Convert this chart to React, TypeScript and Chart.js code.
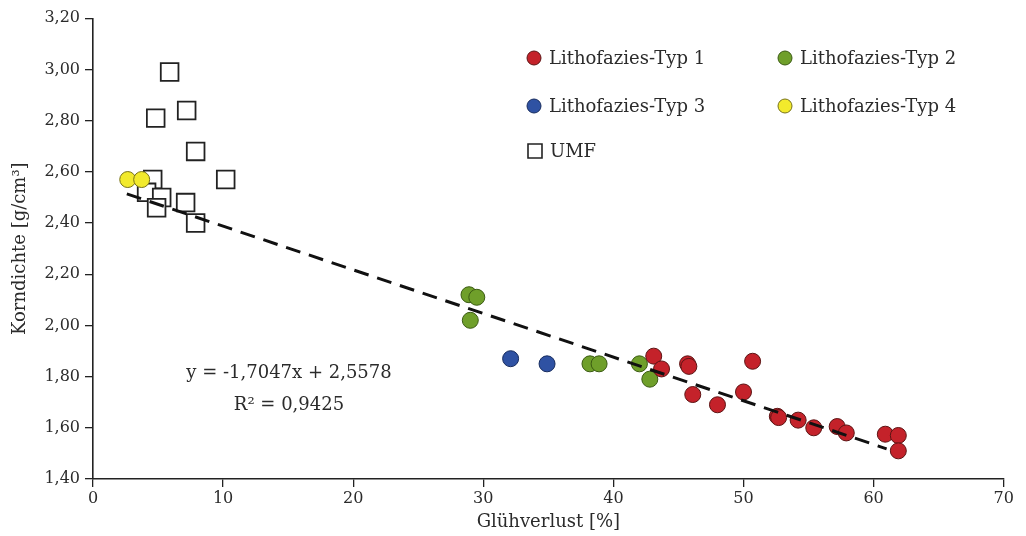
import React, { useEffect, useRef } from "react";
import { Chart, registerables } from "chart.js";

Chart.register(...registerables);

// ---- Data ----
const typ1X = [43.1, 43.7, 45.7, 45.8, 50.7, 46.1, 48.0, 50.0, 52.6, 52.7, 54.2, 55.4, 57.2, 57.9, 60.9, 61.9, 61.9];
const typ1Y = [1.88, 1.83, 1.85, 1.84, 1.86, 1.73, 1.69, 1.74, 1.645, 1.64, 1.63, 1.60, 1.605, 1.58, 1.575, 1.57, 1.51];

const typ2X = [28.9, 29.5, 29.0, 38.2, 38.9, 42.0, 42.8];
const typ2Y = [2.12, 2.11, 2.02, 1.85, 1.85, 1.85, 1.79];

const typ3X = [32.1, 34.9];
const typ3Y = [1.87, 1.85];

const typ4X = [2.67, 3.74];
const typ4Y = [2.57, 2.57];

const umfX = [5.89, 4.82, 7.2, 7.89, 10.2, 4.59, 4.12, 5.28, 4.89, 7.12, 7.89];
const umfY = [2.99, 2.81, 2.84, 2.68, 2.57, 2.57, 2.52, 2.5, 2.46, 2.48, 2.4];

const trendX = [2.6, 61.0];
const trendY = [2.514, 1.518];

const xTicks = [0, 10, 20, 30, 40, 50, 60, 70];
const yTicks = [1.4, 1.6, 1.8, 2.0, 2.2, 2.4, 2.6, 2.8, 3.0, 3.2];

const seriesNames = ["Lithofazies-Typ 1", "Lithofazies-Typ 2", "Lithofazies-Typ 3", "Lithofazies-Typ 4", "UMF"];
const equationText = "y = -1,7047x + 2,5578";
const r2Text = "R\u00B2 = 0,9425";
const xTitle = "Glühverlust [%]";
const yTitle = "Korndichte [g/cm\u00B3]";

const FONT = "'DejaVu Serif', 'Liberation Serif', serif";
const TEXT = "#2b2b2b";

const zip = (xs: number[], ys: number[]) => xs.map((x, i) => ({ x, y: ys[i] }));

const colors = {
  red: { fill: "#c4222a", border: "#5c1414" },
  green: { fill: "#6f9f2a", border: "#3a5a12" },
  blue: { fill: "#2f52a3", border: "#172c5e" },
  yellow: { fill: "#f2ea2c", border: "#77721a" },
};

const overlayPlugin = {
  id: "overlay",
  afterDraw(chart: any) {
    const ctx = chart.ctx as CanvasRenderingContext2D;
    ctx.save();
    const items = [
      { label: seriesNames[0], c: colors.red, x: 526, y: 54, sq: false },
      { label: seriesNames[1], c: colors.green, x: 777, y: 54, sq: false },
      { label: seriesNames[2], c: colors.blue, x: 526, y: 102, sq: false },
      { label: seriesNames[3], c: colors.yellow, x: 777, y: 102, sq: false },
      { label: seriesNames[4], c: { fill: "#ffffff", border: "#222" }, x: 527, y: 147, sq: true },
    ];
    ctx.font = `18px ${FONT}`;
    ctx.textBaseline = "middle";
    ctx.textAlign = "left";
    for (const it of items) {
      ctx.beginPath();
      if (it.sq) {
        ctx.rect(it.x - 7, it.y - 7, 14, 14);
        ctx.fillStyle = it.c.fill;
        ctx.fill();
        ctx.lineWidth = 1.6;
        ctx.strokeStyle = it.c.border;
        ctx.stroke();
      } else {
        ctx.arc(it.x, it.y, 7, 0, Math.PI * 2);
        ctx.fillStyle = it.c.fill;
        ctx.fill();
        ctx.lineWidth = 1;
        ctx.strokeStyle = it.c.border;
        ctx.stroke();
      }
      ctx.fillStyle = TEXT;
      ctx.fillText(it.label, it.x + 15, it.y + 1);
    }
    ctx.textAlign = "center";
    ctx.font = `18px ${FONT}`;
    ctx.fillText(equationText, 281, 369);
    ctx.fillText(r2Text, 281, 401);
    ctx.restore();
  },
};

export default function App() {
  const ref = useRef<HTMLCanvasElement | null>(null);

  useEffect(() => {
    if (!ref.current) return;
    const circle = (label: string, xs: number[], ys: number[], c: { fill: string; border: string }) => ({
      type: "scatter" as const,
      label,
      data: zip(xs, ys),
      backgroundColor: c.fill,
      borderColor: c.border,
      borderWidth: 1,
      pointRadius: 8,
      pointHoverRadius: 8,
      order: 1,
    });
    const chart = new Chart(ref.current, {
      type: "scatter",
      data: {
        datasets: [
          {
            type: "line",
            label: "Trend",
            data: zip(trendX, trendY),
            borderColor: "#111",
            borderWidth: 3,
            borderDash: [15, 9],
            pointRadius: 0,
            fill: false,
            order: 0,
          } as any,
          circle(seriesNames[0], typ1X, typ1Y, colors.red),
          circle(seriesNames[1], typ2X, typ2Y, colors.green),
          circle(seriesNames[2], typ3X, typ3Y, colors.blue),
          circle(seriesNames[3], typ4X, typ4Y, colors.yellow),
          {
            type: "scatter",
            label: seriesNames[4],
            data: zip(umfX, umfY),
            pointStyle: "rect",
            pointRadius: 12.5,
            pointHoverRadius: 12.5,
            backgroundColor: "#ffffff",
            borderColor: "#222",
            borderWidth: 1.8,
            order: 2,
          } as any,
        ],
      },
      options: {
        animation: false,
        responsive: false,
        events: [],
        layout: { padding: { top: 10, right: 13, left: 0, bottom: 0 } },
        plugins: { legend: { display: false }, tooltip: { enabled: false } },
        scales: {
          x: {
            type: "linear",
            min: 0,
            max: 70,
            afterBuildTicks: (scale: any) => {
              scale.ticks = xTicks.map((v) => ({ value: v }));
            },
            afterFit: (scale: any) => {
              scale.height = 57;
            },
            ticks: {
              color: TEXT,
              font: { family: FONT, size: 16, lineHeight: 1 },
              padding: 4,
              maxRotation: 0,
            },
            grid: { drawOnChartArea: false, drawTicks: true, tickLength: 8, color: "#222", lineWidth: 1.3 },
            border: { color: "#222", width: 1.6 },
            title: {
              display: true,
              text: xTitle,
              color: TEXT,
              font: { family: FONT, size: 18, lineHeight: 1.2 },
              padding: { top: 0, bottom: 3 },
            },
          },
          y: {
            type: "linear",
            min: 1.4,
            max: 3.2,
            afterBuildTicks: (scale: any) => {
              scale.ticks = yTicks.map((v) => ({ value: v }));
            },
            afterFit: (scale: any) => {
              scale.width = 85;
            },
            ticks: {
              color: TEXT,
              font: { family: FONT, size: 16, lineHeight: 0.5 },
              padding: 5,
              callback: (v: any) => Number(v).toFixed(2).replace(".", ","),
            },
            grid: { drawOnChartArea: false, drawTicks: true, tickLength: 8, color: "#222", lineWidth: 1.3 },
            border: { color: "#222", width: 1.6 },
            title: {
              display: true,
              text: yTitle,
              color: TEXT,
              font: { family: FONT, size: 18, lineHeight: 1.2 },
              padding: { top: 2, bottom: 0 },
            },
          },
        },
      },
      plugins: [overlayPlugin],
    } as any);
    return () => chart.destroy();
  }, []);

  return (
    <div style={{ width: 1010, height: 532, marginTop: -4 }}>
      <canvas ref={ref} width={1010} height={532} style={{ display: "block" }} />
    </div>
  );
}
